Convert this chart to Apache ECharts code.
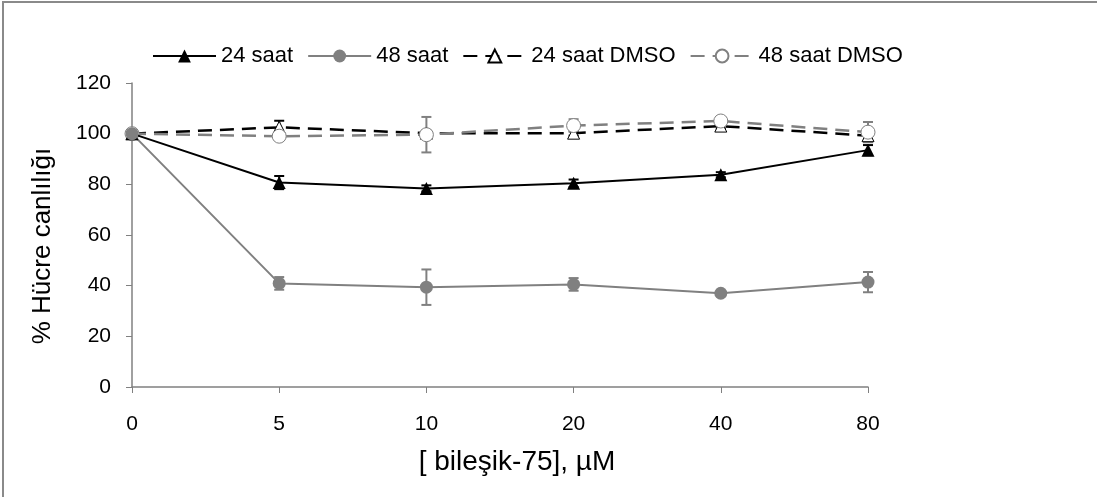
<!DOCTYPE html>
<html>
<head>
<meta charset="utf-8">
<script src="https://cdn.jsdelivr.net/npm/echarts@6/dist/echarts.min.js"></script>
<style>html,body{margin:0;padding:0;background:#fff;}#c{width:1097px;height:497px;}</style>
</head>
<body>
<div id="c"></div>
<script>
var categories = ['0', '5', '10', '20', '40', '80'];
var yTicks = [0, 20, 40, 60, 80, 100, 120];
var seriesNames = ['24 saat', '48 saat', '24 saat DMSO', '48 saat DMSO'];
var v24 = [100, 80.7, 78.4, 80.4, 83.8, 93.5];
var e24 = [0, 2.6, 1.2, 1.5, 1.0, 2.0];
var v48 = [100, 40.9, 39.4, 40.5, 37.0, 41.4];
var e48 = [0, 2.5, 7.0, 2.5, 0.5, 4.0];
var vD24 = [100, 102.5, 100.2, 100.2, 103.0, 99.2];
var eD24 = [0, 2.6, 1.0, 1.0, 1.0, 1.5];
var vD48 = [100, 99.0, 99.6, 103.2, 105.0, 100.6];
var eD48 = [0, 1.5, 7.0, 2.5, 1.0, 4.0];

var FONT = '"Liberation Sans", Arial, sans-serif';
var BLACK = '#000000';
var GRAY = '#808080';

function errData(v, e) {
  return v.map(function (val, i) { return [i, val - e[i], val + e[i]]; });
}
function errSeries(v, e, color) {
  return {
    type: 'custom',
    silent: true,
    z: 3,
    encode: { x: 0, y: [1, 2] },
    data: errData(v, e),
    renderItem: function (params, api) {
      var i = api.value(0);
      var lo = api.coord([i, api.value(1)]);
      var hi = api.coord([i, api.value(2)]);
      var w = 5;
      var st = { stroke: color, lineWidth: 2 };
      return {
        type: 'group',
        children: [
          { type: 'line', shape: { x1: lo[0], y1: lo[1], x2: hi[0], y2: hi[1] }, style: st },
          { type: 'line', shape: { x1: lo[0] - w, y1: lo[1], x2: lo[0] + w, y2: lo[1] }, style: st },
          { type: 'line', shape: { x1: hi[0] - w, y1: hi[1], x2: hi[0] + w, y2: hi[1] }, style: st }
        ]
      };
    }
  };
}

var chart = echarts.init(document.getElementById('c'), null, { renderer: 'canvas' });
chart.setOption({
  animation: false,
  backgroundColor: '#ffffff',
  textStyle: { fontFamily: FONT, color: BLACK },
  graphic: [{
    type: 'rect', silent: true, z: -1,
    shape: { x: 3, y: 2, width: 1110, height: 510 },
    style: { fill: 'none', stroke: '#8a8a8a', lineWidth: 2 }
  }],
  legend: {
    top: 40,
    left: 147,
    itemWidth: 63,
    itemHeight: 16,
    itemGap: 14,
    textStyle: { fontFamily: FONT, fontSize: 22, color: BLACK },
    data: seriesNames
  },
  grid: { left: 132, right: 229, top: 83, bottom: 110 },
  xAxis: {
    type: 'category',
    data: categories,
    boundaryGap: false,
    name: '[ bileşik-75], µM',
    nameLocation: 'middle',
    nameGap: 61,
    nameTextStyle: { fontFamily: FONT, fontSize: 28, color: BLACK, padding: [0, 0, 0, 34] },
    axisLine: { lineStyle: { color: GRAY, width: 1.5 } },
    axisTick: { show: true, alignWithLabel: true, length: 6, lineStyle: { color: GRAY } },
    axisLabel: { fontFamily: FONT, fontSize: 21, color: BLACK, margin: 27 },
    splitLine: { show: false }
  },
  yAxis: {
    type: 'value',
    min: 0, max: 120, interval: 20,
    name: '% Hücre canlılığı',
    nameLocation: 'middle',
    nameGap: 76,
    nameTextStyle: { fontFamily: FONT, fontSize: 26, color: BLACK, padding: [0, 22, 0, 0] },
    axisLine: { show: true, lineStyle: { color: GRAY, width: 1.5 } },
    axisTick: { show: true, length: 6, lineStyle: { color: GRAY } },
    axisLabel: { fontFamily: FONT, fontSize: 21, color: BLACK, margin: 21 },
    splitLine: { show: false }
  },
  series: [
    errSeries(v24, e24, BLACK),
    errSeries(v48, e48, GRAY),
    errSeries(vD24, eD24, BLACK),
    errSeries(vD48, eD48, GRAY),
    {
      name: seriesNames[2], type: 'line', data: vD24, z: 4,
      symbol: 'triangle', symbolSize: 12, showAllSymbol: true,
      lineStyle: { color: BLACK, width: 2.5, type: [14, 8] },
      itemStyle: { color: '#ffffff', borderColor: BLACK, borderWidth: 1 }
    },
    {
      name: seriesNames[3], type: 'line', data: vD48, z: 4,
      symbol: 'circle', symbolSize: 14, showAllSymbol: true,
      lineStyle: { color: GRAY, width: 2.5, type: [14, 8] },
      itemStyle: { color: '#ffffff', borderColor: GRAY, borderWidth: 1 }
    },
    {
      name: seriesNames[0], type: 'line', data: v24, z: 5,
      symbol: 'triangle', symbolSize: 13, showAllSymbol: true,
      lineStyle: { color: BLACK, width: 2 },
      itemStyle: { color: BLACK }
    },
    {
      name: seriesNames[1], type: 'line', data: v48, z: 5,
      symbol: 'circle', symbolSize: 13, showAllSymbol: true,
      lineStyle: { color: GRAY, width: 2 },
      itemStyle: { color: GRAY }
    }
  ]
});
</script>
</body>
</html>
